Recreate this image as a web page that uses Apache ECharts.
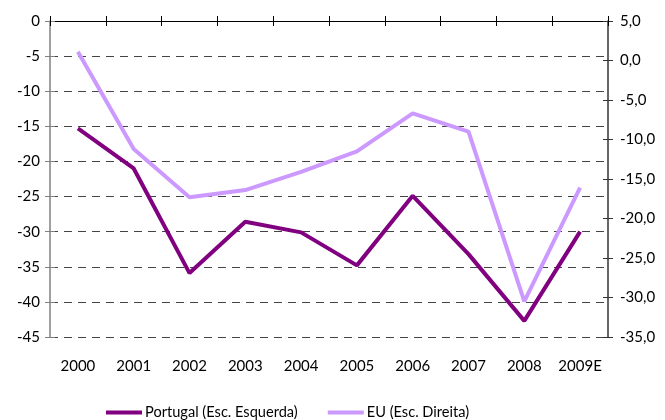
<!DOCTYPE html>
<html>
<head>
  <meta charset="UTF-8">
  <title>Portugal vs EU</title>
  <script src="https://cdn.jsdelivr.net/npm/echarts@6/dist/echarts.min.js"></script>
  <style>
    html, body { margin: 0; padding: 0; background: #fff; }
    #main { width: 665px; height: 420px; }
  </style>
</head>
<body>
<div id="main"></div>
<script type="text/javascript">
  // dados
  var years = ['2000', '2001', '2002', '2003', '2004', '2005', '2006', '2007', '2008', '2009E'];
  var portugal = [-15.3, -21.0, -35.9, -28.6, -30.1, -34.8, -24.9, -33.2, -42.7, -30.0];
  var eu = [1.1, -11.2, -17.3, -16.4, -14.1, -11.5, -6.7, -9.0, -30.5, -16.1];

  var leftTicks = { min: -45, max: 0, interval: 5 };
  var rightTicks = { min: -35, max: 5, interval: 5 };

  var font = 'Lato, "Open Sans", sans-serif';

  var myChart = echarts.init(document.getElementById('main'));

  var option = {
    animation: false,
    grid: { left: 50, right: 57, top: 21, bottom: 83 },
    legend: {
      top: 400,
      left: 101,
      itemWidth: 36,
      itemHeight: 4,
      itemGap: 30,
      icon: 'rect',
      textStyle: { fontFamily: font, fontSize: 14.6, color: '#000', padding: [0, 0, 0, -2] },
      data: ['Portugal (Esc. Esquerda)', 'EU (Esc. Direita)']
    },
    xAxis: [
      {
        // linha do eixo no topo (zero)
        type: 'category', data: years, position: 'top',
        axisLine: { lineStyle: { color: '#000', width: 1 } },
        axisTick: { show: true, length: 5, lineStyle: { color: '#000' } },
        axisLabel: { show: false }
      },
      {
        type: 'category', data: years, position: 'top', gridIndex: 0,
        axisLine: { show: false },
        axisTick: { show: true, inside: true, length: 5, lineStyle: { color: '#000' } },
        axisLabel: { show: false }
      },
      {
        type: 'category', data: years, position: 'bottom',
        axisLine: { show: false },
        axisTick: { show: false },
        axisLabel: { interval: 0, margin: 22, fontFamily: font, fontSize: 15, color: '#000' }
      }
    ],
    yAxis: [
      {
        type: 'value', position: 'left',
        min: leftTicks.min, max: leftTicks.max, interval: leftTicks.interval,
        axisLine: { show: true, lineStyle: { color: '#808080', width: 1.5 } },
        axisTick: { show: true, length: 5, lineStyle: { color: '#808080' } },
        axisLabel: { margin: 10, fontFamily: font, fontSize: 15, color: '#000' },
        splitLine: { show: true, lineStyle: { color: '#444', type: [8, 6], width: 1 } }
      },
      {
        type: 'value', position: 'left',
        min: leftTicks.min, max: leftTicks.max, interval: leftTicks.interval,
        axisLine: { show: false },
        axisTick: { show: true, inside: true, length: 5, lineStyle: { color: '#808080' } },
        axisLabel: { show: false },
        splitLine: { show: false }
      },
      {
        type: 'value', position: 'right',
        min: rightTicks.min, max: rightTicks.max, interval: rightTicks.interval,
        axisLine: { show: true, lineStyle: { color: '#333', width: 1.5 } },
        axisTick: { show: true, length: 5, lineStyle: { color: '#333' } },
        axisLabel: {
          margin: 12, fontFamily: font, fontSize: 15, color: '#000',
          formatter: function (v) { return v.toFixed(1).replace('.', ','); }
        },
        splitLine: { show: false }
      },
      {
        type: 'value', position: 'right',
        min: rightTicks.min, max: rightTicks.max, interval: rightTicks.interval,
        axisLine: { show: false },
        axisTick: { show: true, inside: true, length: 5, lineStyle: { color: '#333' } },
        axisLabel: { show: false },
        splitLine: { show: false }
      }
    ],
    series: [
      {
        name: 'Portugal (Esc. Esquerda)',
        type: 'line',
        xAxisIndex: 0, yAxisIndex: 0,
        data: portugal,
        showSymbol: false,
        color: '#800080',
        lineStyle: { width: 4, color: '#800080' }
      },
      {
        name: 'EU (Esc. Direita)',
        type: 'line',
        xAxisIndex: 0, yAxisIndex: 2,
        data: eu,
        showSymbol: false,
        color: '#CC99FF',
        lineStyle: { width: 4, color: '#CC99FF' }
      }
    ]
  };

  myChart.setOption(option);
</script>
</body>
</html>
